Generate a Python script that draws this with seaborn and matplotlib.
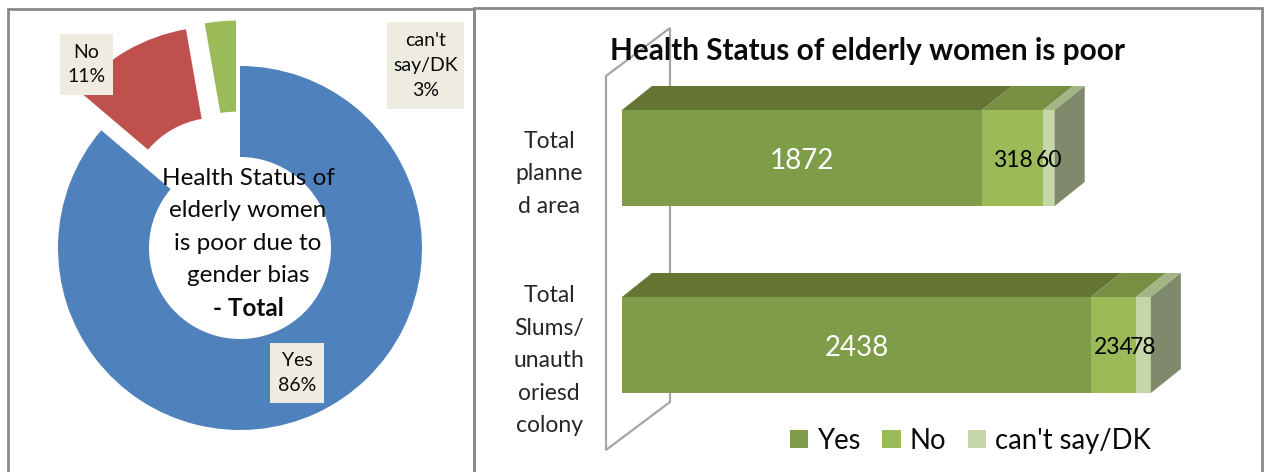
import numpy as np
import matplotlib
matplotlib.use('Agg')
import matplotlib.pyplot as plt
from matplotlib.patches import Polygon, Rectangle
from matplotlib.transforms import ScaledTranslation
import seaborn as sns

W, H = 1264, 472

CATEGORIES = ['Total\nplanne\nd area', 'Total\nSlums/\nunauth\noriesd\ncolony']
YES = np.array([1872, 2438])
NO = np.array([318, 234])
DK = np.array([60, 78])

PIE_LABELS = ['Yes', 'No', "can't say/DK"]
PIE_VALUES = [YES.sum(), NO.sum(), DK.sum()]
PIE_COLORS = ['#4F81BD', '#C0504D', '#9BBB59']

FRONT_COLORS = ['#7F9C48', '#9BBB59', '#C5D6A8']
TOP_COLORS = ['#647534', '#768F42', '#A3B585']
SIDE_COLOR = '#7F8A6C'
BORDER = '#8A8A8A'
BOX_COLOR = '#EEECE1'

sns.set_theme(style='white')
plt.rcParams['font.family'] = ['Lato', 'DejaVu Sans']
plt.rcParams['text.color'] = '#0A0A0A'


def px_axes(fig, x0, y0, x1, y1):
    """Axes from pixel corners, y counted from the top of the picture."""
    return fig.add_axes([x0 / W, 1 - y1 / H, (x1 - x0) / W, (y1 - y0) / H])


def note_box(fig, x0, y0, x1, y1, text, size=14):
    fig.add_artist(Rectangle((x0 / W, 1 - y1 / H), (x1 - x0) / W, (y1 - y0) / H,
                             transform=fig.transFigure, color=BOX_COLOR, lw=0, zorder=2))
    fig.text((x0 + x1) / 2 / W, 1 - (y0 + y1) / 2 / H, text, ha='center', va='center',
             ma='center', fontsize=size, linespacing=1.55, zorder=3)


def plot_donut(fig):
    half = 232
    ax = px_axes(fig, 240 - half, 248 - half, 240 + half, 248 + half)
    ax.pie(PIE_VALUES, colors=PIE_COLORS, explode=[0, 0.25, 0.25], startangle=90,
           counterclock=False, radius=1, wedgeprops={'width': 0.5, 'linewidth': 0})
    lim = half / 182
    ax.set_xlim(-lim, lim)
    ax.set_ylim(-lim, lim)

    total = sum(PIE_VALUES)
    yes_pct, no_pct, dk_pct = [round(100 * v / total) for v in PIE_VALUES]
    note_box(fig, 60, 34, 113, 95, f'{PIE_LABELS[1]}\n{no_pct}%')
    note_box(fig, 387, 22, 464, 109, f"can't\nsay/DK\n{dk_pct}%")
    note_box(fig, 270, 343, 324, 403, f'{PIE_LABELS[0]}\n{yes_pct}%')

    fig.text(248 / W, 1 - 227 / H, 'Health Status of\nelderly women\nis poor due to\ngender bias',
             ha='center', va='center', ma='center', fontsize=17.5, linespacing=1.65, zorder=3)
    fig.text(248 / W, 1 - 308 / H, '- Total', ha='center', va='center',
             fontsize=17.5, fontweight='bold', zorder=3)


def plot_bars(fig):
    ax = px_axes(fig, 606, 76, 1190, 450)
    scale = 360 / YES[0]  # pixels per unit on the value axis
    step = 187  # pixels between the two bars
    bar_height = 96 / step
    depth_x, depth_y = 30 / scale, -24 / step

    segments = [YES, NO, DK]
    lefts = np.zeros(len(CATEGORIES))
    ends = []
    for values, color, name in zip(segments, FRONT_COLORS, PIE_LABELS):
        sns.barplot(x=values, y=CATEGORIES, left=lefts, orient='h', color=color, saturation=1,
                    width=bar_height, linewidth=0, label=name, ax=ax)
        ends.append((lefts.copy(), lefts + values))
        lefts = lefts + values

    x_min, x_max = -16 / scale, 568 / scale
    y_top, y_bottom = -82 / step, 292 / step
    ax.set_xlim(x_min, x_max)
    ax.set_ylim(y_bottom, y_top)

    # receding wall behind the bars
    wall_dx, wall_dy = 64 / scale, 2 * depth_y
    ax.add_patch(Polygon([(x_min, y_bottom), (x_min, y_top), (x_min + wall_dx, y_top + wall_dy),
                          (x_min + wall_dx, y_bottom + wall_dy)], closed=True, fill=False,
                         edgecolor='#A6A6A6', lw=1.6, clip_on=False, zorder=0.5))

    # top and side faces of each stacked bar
    for i in range(len(CATEGORIES)):
        top = i - bar_height / 2
        bottom = i + bar_height / 2
        for (start, end), color in zip(ends, TOP_COLORS):
            ax.add_patch(Polygon([(start[i], top), (end[i], top), (end[i] + depth_x, top + depth_y),
                                  (start[i] + depth_x, top + depth_y)], closed=True, color=color, lw=0))
        last = ends[-1][1][i]
        ax.add_patch(Polygon([(last, top), (last + depth_x, top + depth_y),
                              (last + depth_x, bottom + depth_y), (last, bottom)],
                             closed=True, color=SIDE_COLOR, lw=0))

    for container, color, size in zip(ax.containers, ['white', 'black', 'black'], [20, 16.5, 16.5]):
        for label in ax.bar_label(container, label_type='center', color=color, fontsize=size):
            label.set_position((0, -2))

    ax.tick_params(axis='y', length=0, pad=41, labelsize=16.5)
    shift = ScaledTranslation(0, -8 / 100, fig.dpi_scale_trans)
    for label in ax.get_yticklabels():
        label.set_ha('center')
        label.set_multialignment('center')
        label.set_linespacing(1.68)
        label.set_transform(label.get_transform() + shift)
    ax.tick_params(axis='x', bottom=False, labelbottom=False)
    sns.despine(ax=ax, left=True, bottom=True)

    ax.legend(loc='lower left', bbox_to_anchor=(184 / 584, -0.01), ncol=3, frameon=False,
              fontsize=19.8, handlelength=0.67, handleheight=0.67, handletextpad=0.33,
              columnspacing=0.78, borderpad=0, borderaxespad=0)

    fig.text(868 / W, 1 - 51 / H, 'Health Status of elderly women is poor', ha='center', va='center',
             fontsize=21.4, fontweight='bold', zorder=3)


def plot_panels(fig):
    for x0, y0, x1, y1 in [(8, 9, 474, 480), (474, 8, 1262, 480)]:
        fig.add_artist(Rectangle((x0 / W, 1 - y1 / H), (x1 - x0) / W, (y1 - y0) / H,
                                 transform=fig.transFigure, fill=False, edgecolor=BORDER,
                                 lw=2, zorder=1))


if __name__ == '__main__':
    fig = plt.figure(figsize=(W / 100, H / 100), dpi=100, facecolor='white')
    plot_panels(fig)
    plot_donut(fig)
    plot_bars(fig)
    fig.savefig('out.png', dpi=100)
